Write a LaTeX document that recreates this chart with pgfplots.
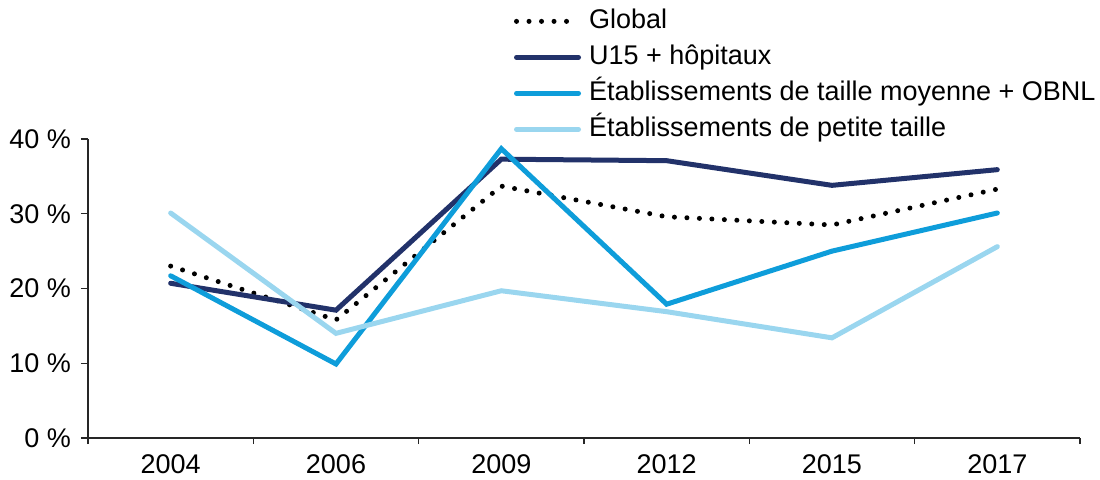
\documentclass[border=0pt]{standalone}
\usepackage{pgfplots}
\pgfplotsset{compat=1.18}
\usepackage{fontspec}
\setmainfont{Liberation Sans}
\definecolor{navy}{HTML}{22326A}
\definecolor{mid}{HTML}{0E9DDA}
\definecolor{light}{HTML}{9AD6EF}
\begin{document}
\begin{tikzpicture}
\path[use as bounding box] (-44pt,-20.5pt) rectangle (506pt,219pt);
\begin{axis}[
  at={(0,0)}, anchor=south west,
  scale only axis, width=496pt, height=149.5pt,
  xmin=0, xmax=6, ymin=0, ymax=40,
  axis lines*=left,
  axis line style={line width=0.7pt, black!85},
  clip=false,
  xtick={0.5,1.5,2.5,3.5,4.5,5.5},
  xticklabels={2004,2006,2009,2012,2015,2017},
  minor xtick={0,1,2,3,4,5,6},
  major x tick style={draw=none},
  minor x tick style={line width=0.6pt, black!85},
  minor tick length=3pt,
  ytick={0,10,20,30,40},
  yticklabels={0 \%,10 \%,20 \%,30 \%,40 \%},
  major tick length=3.5pt,
  tick align=outside,
  y tick style={line width=0.6pt, black!85},
  tick label style={font=\fontsize{13.5}{16}\selectfont},
  yticklabel style={xshift=-1.5pt},
  xticklabel style={yshift=-1.5pt},
  legend cell align=left,
  legend style={at={(0.423,1.465)}, anchor=north west, draw=none, fill=none,
    font=\fontsize{13.5}{16}\selectfont, row sep=1pt,
    /tikz/every odd column/.append style={column sep=3pt},
    nodes={inner sep=1pt, text height=11pt, text depth=4pt}},
  legend image code/.code={\draw[#1] (0pt,0pt) -- (31pt,0pt);},
]
\addplot[black, line width=2.5pt, line cap=round, dash pattern=on 0pt off 6.25pt] coordinates {
 (0.5,23.0) (1.5,15.8) (2.5,33.7) (3.5,29.6) (4.5,28.5) (5.5,33.3)};
\addlegendentry{Global}
\addplot[navy, line width=2.5pt, line cap=round] coordinates {
 (0.5,20.7) (1.5,17.1) (2.5,37.3) (3.5,37.1) (4.5,33.8) (5.5,35.9)};
\addlegendentry{U15 + hôpitaux}
\addplot[mid, line width=2.5pt, line cap=round] coordinates {
 (0.5,21.7) (1.5,9.9) (2.5,38.7) (3.5,17.9) (4.5,25.0) (5.5,30.1)};
\addlegendentry{Établissements de taille moyenne + OBNL}
\addplot[light, line width=2.5pt, line cap=round] coordinates {
 (0.5,30.1) (1.5,14.0) (2.5,19.7) (3.5,16.9) (4.5,13.4) (5.5,25.6)};
\addlegendentry{Établissements de petite taille}
\end{axis}
\end{tikzpicture}
\end{document}
